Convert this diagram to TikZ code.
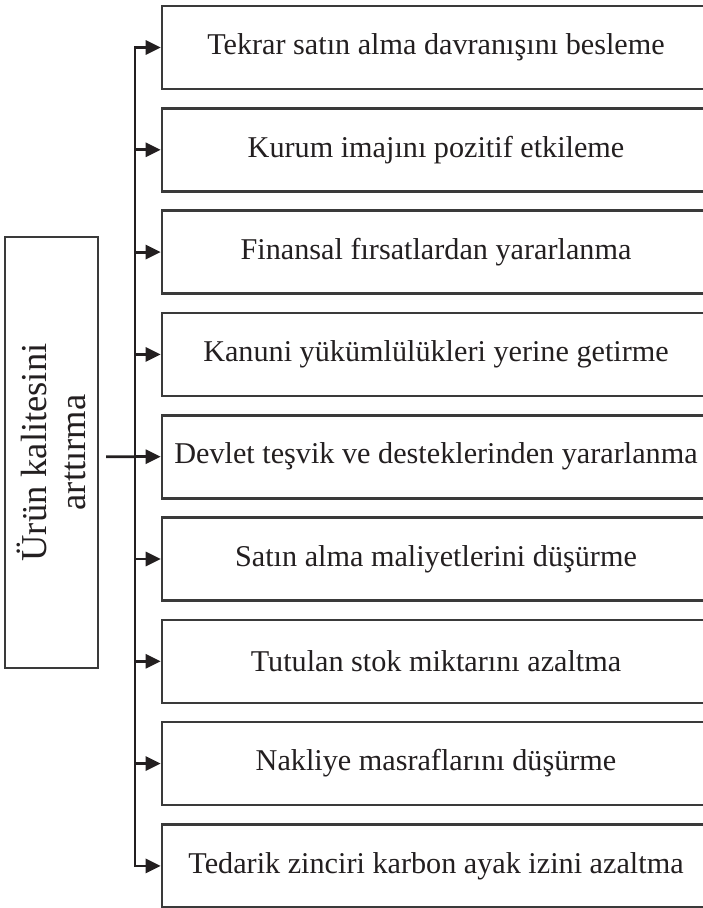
\documentclass[tikz,border=0pt]{standalone}
\usepackage{fontspec}
\setmainfont{Liberation Serif}
\usetikzlibrary{arrows.meta}
\definecolor{ink}{HTML}{231F20}
\definecolor{frame}{HTML}{3A3A3A}
\tikzset{
  itembox/.style={draw=frame, line width=2.6pt, minimum width=548pt, minimum height=83pt,
    inner sep=0pt, font=\fontsize{30.2}{35}\selectfont, text=ink},
  srcbox/.style={draw=frame, line width=2pt, rotate=90, minimum width=431pt, minimum height=93pt,
    inner sep=0pt, align=center, font=\fontsize{36.5}{38.5}\selectfont, text=ink},
  conn/.style={draw=ink, line width=2.8pt},
  arr/.style={conn, -{Triangle[length=15pt,width=14pt]}}
}
\begin{document}
\begin{tikzpicture}[x=1pt,y=-1pt]
\useasboundingbox (0,0) rectangle (703,908);
\path[fill=white] (0,0) rectangle (703,908);
% source box
\node[srcbox] (src) at (51.5,452.5) {Ürün kalitesini\\arttırma};
% target boxes
\foreach \i/\t in {1/{Tekrar satın alma davranışını besleme},
                   2/{Kurum imajını pozitif etkileme},
                   3/{Finansal fırsatlardan yararlanma},
                   4/{Kanuni yükümlülükleri yerine getirme},
                   5/{Devlet teşvik ve desteklerinden yararlanma},
                   6/{Satın alma maliyetlerini düşürme},
                   7/{Tutulan stok miktarını azaltma},
                   8/{Nakliye masraflarını düşürme},
                   9/{Tedarik zinciri karbon ayak izini azaltma}}{
  \pgfmathsetmacro{\cy}{47.5+102.3*(\i-1)}
  \node[itembox] (b\i) at (436,\cy) {\t};
  \coordinate (c\i) at (135,\cy);
}
\coordinate (s) at (106,456.7);
% trunk
\draw[conn, line cap=rect] (c1) -- (c9);
% arrows
\foreach \i in {1,...,9}{
  \draw[arr] (c\i) -- (b\i.west);
}
\draw[conn] (s) -- (c5);
\end{tikzpicture}
\end{document}
